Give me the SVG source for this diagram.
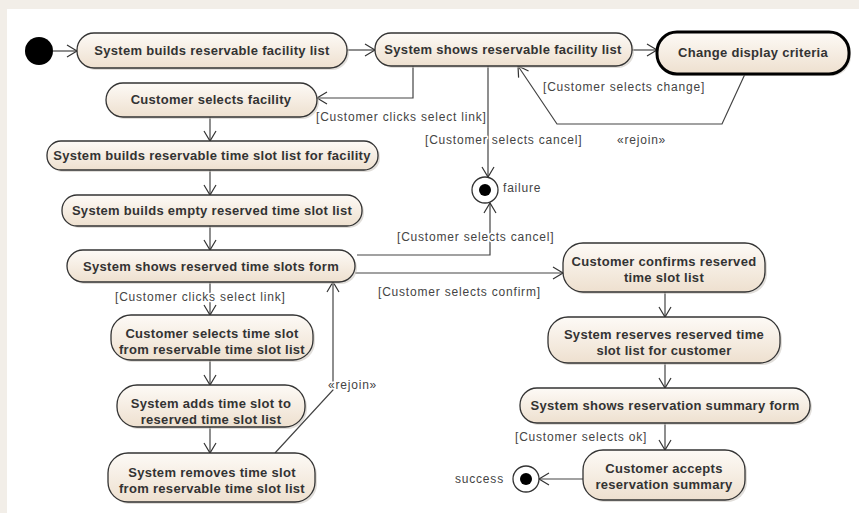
<svg xmlns="http://www.w3.org/2000/svg" width="859" height="513" viewBox="0 0 859 513">
<defs>
<linearGradient id="g" x1="0" y1="0" x2="0" y2="1">
<stop offset="0" stop-color="#fdfaf6"/>
<stop offset="1" stop-color="#eee0cf"/>
</linearGradient>
<marker id="a" markerUnits="userSpaceOnUse" markerWidth="14" markerHeight="14" refX="11" refY="7" orient="auto">
<path d="M1,1 L11,7 L1,13" fill="none" stroke="#333" stroke-width="1.2"/>
</marker>
</defs>
<style>
.n rect.b{fill:url(#g);stroke:#333;stroke-width:1.3}
.n rect.s{fill:#c8c2bb;opacity:.55}
.n text{font-family:"Liberation Sans",Arial,sans-serif;font-weight:bold;font-size:13px;letter-spacing:0.3px;fill:#333;text-anchor:middle}
.c path{fill:none;stroke:#444;stroke-width:1.2}
.c .ar{marker-end:url(#a)}
.l{font-family:"Liberation Sans",Arial,sans-serif;font-size:12px;letter-spacing:0.8px;fill:#444;stroke:#fff;stroke-width:3px;paint-order:stroke;stroke-linejoin:round}
</style>
<rect width="859" height="513" fill="#ffffff"/>
<rect width="859" height="9" fill="#f2eee8"/>
<rect width="7" height="513" fill="#f2eee8"/>

<g class="c" id="connectors">
<path class="ar" d="M53,51 L77,51"/>
<path class="ar" d="M347,50 L375,50"/>
<path class="ar" d="M632,50 L657,50"/>
<path class="ar" d="M745,74 L722,124 L557,124 L518,66"/>
<path class="ar" d="M413,66 L413,98 L317,98"/>
<path class="ar" d="M488,66 L488,177"/>
<path class="ar" d="M210,117 L210,141"/>
<path class="ar" d="M210,170 L210,195"/>
<path class="ar" d="M210,226 L210,250"/>
<path class="ar" d="M357,255 L490,255 L490,203"/>
<path class="ar" d="M355,273 L563,273"/>
<path class="ar" d="M210,282 L210,315"/>
<path class="ar" d="M210,360 L210,385"/>
<path class="ar" d="M210,427 L210,453"/>
<path class="ar" d="M275,453 L333,390 L333,282"/>
<path class="ar" d="M665,292 L665,317"/>
<path class="ar" d="M665,363 L665,388"/>
<path class="ar" d="M665,423 L665,450"/>
<path class="ar" d="M583,479 L539,479"/>
</g>

<g id="labels">
<text class="l" x="543" y="91">[Customer selects change]</text>
<text class="l" x="617" y="144">«rejoin»</text>
<text class="l" x="316" y="121">[Customer clicks select link]</text>
<text class="l" x="425" y="144">[Customer selects cancel]</text>
<text class="l" x="503" y="192">failure</text>
<text class="l" x="397" y="241">[Customer selects cancel]</text>
<text class="l" x="378" y="296">[Customer selects confirm]</text>
<text class="l" x="115" y="301">[Customer clicks select link]</text>
<text class="l" x="328" y="389">«rejoin»</text>
<text class="l" x="515" y="441">[Customer selects ok]</text>
<text class="l" x="455" y="483">success</text>
</g>

<g id="initial"><circle cx="39" cy="51" r="14" fill="#000"/></g>
<g id="failure"><circle cx="485" cy="190" r="13" fill="#fff" stroke="#333" stroke-width="1.3"/><circle cx="485" cy="190" r="6" fill="#000"/></g>
<g id="success"><circle cx="526" cy="479" r="13" fill="#fff" stroke="#333" stroke-width="1.3"/><circle cx="526" cy="479" r="6" fill="#000"/></g>

<g class="n" id="n1"><rect class="s" x="79" y="35" width="270" height="35" rx="17"/><rect class="b" x="77" y="33" width="270" height="35" rx="17"/><text x="212" y="55">System builds reservable facility list</text></g>
<g class="n" id="n2"><rect class="s" x="377" y="35" width="257" height="33" rx="16"/><rect class="b" x="375" y="33" width="257" height="33" rx="16"/><text x="503" y="54">System shows reservable facility list</text></g>
<g class="n" id="n3"><rect class="s" x="659" y="34" width="192" height="42" rx="20"/><rect class="b" x="657" y="32" width="192" height="42" rx="20" style="stroke:#000;stroke-width:3"/><text x="753" y="57">Change display criteria</text></g>
<g class="n" id="n4"><rect class="s" x="108" y="85" width="211" height="34" rx="17"/><rect class="b" x="106" y="83" width="211" height="34" rx="17"/><text x="211" y="104">Customer selects facility</text></g>
<g class="n" id="n5"><rect class="s" x="49" y="143" width="331" height="29" rx="14"/><rect class="b" x="47" y="141" width="331" height="29" rx="14"/><text x="212" y="160">System builds reservable time slot list for facility</text></g>
<g class="n" id="n6"><rect class="s" x="64" y="197" width="300" height="31" rx="15"/><rect class="b" x="62" y="195" width="300" height="31" rx="15"/><text x="212" y="215">System builds empty reserved time slot list</text></g>
<g class="n" id="n7"><rect class="s" x="69" y="252" width="288" height="32" rx="16"/><rect class="b" x="67" y="250" width="288" height="32" rx="16"/><text x="211" y="271">System shows reserved time slots form</text></g>
<g class="n" id="n8"><rect class="s" x="565" y="245" width="202" height="49" rx="20"/><rect class="b" x="563" y="243" width="202" height="49" rx="20"/><text x="664" y="266">Customer confirms reserved</text><text x="664" y="282">time slot list</text></g>
<g class="n" id="n9"><rect class="s" x="550" y="319" width="232" height="46" rx="20"/><rect class="b" x="548" y="317" width="232" height="46" rx="20"/><text x="664" y="339">System reserves reserved time</text><text x="664" y="355">slot list for customer</text></g>
<g class="n" id="n10"><rect class="s" x="522" y="390" width="290" height="35" rx="17"/><rect class="b" x="520" y="388" width="290" height="35" rx="17"/><text x="665" y="410">System shows reservation summary form</text></g>
<g class="n" id="n11"><rect class="s" x="585" y="452" width="162" height="50" rx="20"/><rect class="b" x="583" y="450" width="162" height="50" rx="20"/><text x="664" y="473">Customer accepts</text><text x="664" y="489">reservation summary</text></g>
<g class="n" id="n12"><rect class="s" x="113" y="317" width="202" height="45" rx="20"/><rect class="b" x="111" y="315" width="202" height="45" rx="20"/><text x="212" y="338">Customer selects time slot</text><text x="212" y="354">from reservable time slot list</text></g>
<g class="n" id="n13"><rect class="s" x="119" y="387" width="188" height="42" rx="20"/><rect class="b" x="117" y="385" width="188" height="42" rx="20"/><text x="211" y="408">System adds time slot to</text><text x="211" y="424">reserved time slot list</text></g>
<g class="n" id="n14"><rect class="s" x="110" y="455" width="207" height="49" rx="20"/><rect class="b" x="108" y="453" width="207" height="49" rx="20"/><text x="212" y="477">System removes time slot</text><text x="212" y="493">from reservable time slot list</text></g>
</svg>
